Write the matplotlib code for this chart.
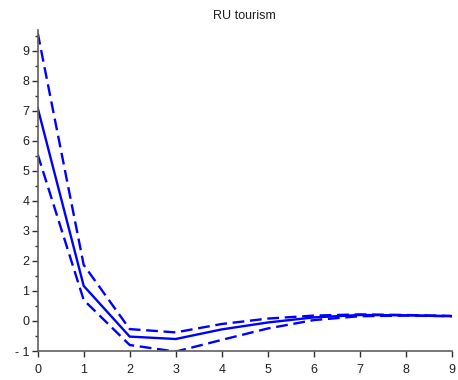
import matplotlib.pyplot as plt
from matplotlib.ticker import MultipleLocator

plt.rcParams['font.family'] = ['Liberation Sans', 'DejaVu Sans']
plt.rcParams['axes.unicode_minus'] = False

# impulse response horizon and bands
steps = [0, 1, 2, 3, 4, 5, 6, 7, 8, 9]
response = [7.1, 1.17, -0.52, -0.6, -0.28, -0.05, 0.12, 0.2, 0.19, 0.16]
upper = [9.6, 1.87, -0.27, -0.38, -0.1, 0.08, 0.18, 0.22, 0.2, 0.17]
lower = [5.55, 0.7, -0.8, -1.02, -0.63, -0.25, 0.03, 0.16, 0.18, 0.16]

fig = plt.figure(figsize=(4.58, 3.80), dpi=100)
ax = fig.add_axes([0.0823, 0.0763, 0.904, 0.845])

ax.plot(steps, response, color='#0000ff', lw=1.7, solid_joinstyle='miter')
for band in (upper, lower):
    ax.plot(steps, band, color='#0000ff', lw=1.7, dashes=(5, 2.4))

ax.set_xlim(0, 9)
ax.set_ylim(-1, 9.7)
ax.set_xticks(range(0, 10))
ax.yaxis.set_major_locator(MultipleLocator(1))
ax.yaxis.set_minor_locator(MultipleLocator(0.5))
ax.set_yticks(range(-1, 10))
ax.set_yticklabels(['- 1'] + [str(v) for v in range(0, 10)])

for side in ('top', 'right'):
    ax.spines[side].set_visible(False)
for side in ('left', 'bottom'):
    ax.spines[side].set_color('#606060')
    ax.spines[side].set_linewidth(1.2)

ax.tick_params(which='major', direction='out', length=4, width=1, color='#303030',
               labelsize=9, labelcolor='#202020', pad=2)
ax.tick_params(axis='x', which='major', pad=5)
ax.tick_params(which='minor', direction='out', length=2.5, width=1, color='#303030')
ax.tick_params(axis='x', which='minor', bottom=False)

ax.set_title('RU tourism', fontsize=9, color='#202020', pad=8)

fig.savefig('out.png', dpi=100)
